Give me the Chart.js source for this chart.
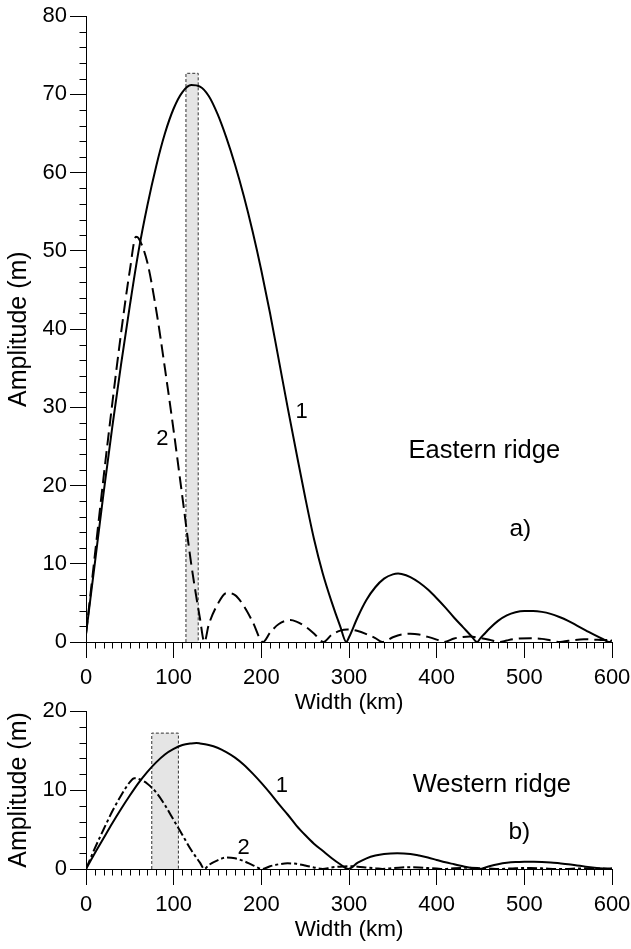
<!DOCTYPE html>
<html><head><meta charset="utf-8">
<script src="https://cdn.jsdelivr.net/npm/chart.js@4/dist/chart.umd.min.js"></script>
<style>
html,body{margin:0;padding:0;background:#fff;}
#wrap{position:relative;width:631px;height:949px;overflow:hidden;background:#fff;}
canvas{position:absolute;left:0;}
#east{top:0;}
#west{top:690px;}
</style></head><body>
<div id="wrap"><canvas id="east" width="631" height="720"></canvas><canvas id="west" width="631" height="259"></canvas></div>
<script>
// ---- data ----
const xTickValues = [0, 100, 200, 300, 400, 500, 600];
const eastYTickValues = [0, 10, 20, 30, 40, 50, 60, 70, 80];
const westYTickValues = [0, 10, 20];

// Eastern ridge, curve 1 (solid)
const eastW1 = [0,10,20,30,40,50,60,70,80,90,100,110,120,130,140,150,160,170,180,190,200,210,220,230,240,250,260,270,280,290,297,300,310,320,330,340,350,356,360,370,380,390,400,410,420,430,440,446,450,460,470,480,490,500,510,520,530,540,550,560,570,580,590,597,600];
const eastA1 = [1,10,19,27.5,35.5,43,50,55.8,60.8,65,68.2,70.3,71.2,71.0,69.8,67.5,64.5,61,57,52.5,47.5,42,36,30,24.2,18.5,13.2,8.8,5.2,2.0,0,0.6,3.2,5.4,7.0,8.1,8.65,8.75,8.7,8.3,7.6,6.7,5.6,4.4,3.1,1.9,0.7,0,0.5,1.7,2.7,3.4,3.8,3.95,3.95,3.85,3.6,3.2,2.7,2.1,1.5,0.9,0.35,0,0.25];
// Eastern ridge, curve 2 (dashed)
const eastW2 = [0,10,20,30,40,50,57,60,70,80,90,100,110,120,130,135,140,150,160,170,180,190,202,210,220,233,240,250,260,271,280,290,298,310,320,330,338,350,360,370,380,390,400,408,420,430,438,450,460,472,480,490,507,520,530,541,550,568,580,590,600];
const eastA2 = [1,11,21,30.5,39.5,47.5,51.8,51.6,48.5,42.5,35,27,18.5,10,3,0,2.2,4.8,6.25,6.0,4.6,2.6,0,1.2,2.3,2.8,2.6,2.0,1.1,0,0.9,1.45,1.6,1.4,1.0,0.5,0,0.6,0.95,1.05,0.95,0.65,0.3,0,0.45,0.65,0.7,0.5,0.3,0,0.2,0.4,0.48,0.4,0.2,0,0.15,0.35,0.3,0.25,0.3];
// Eastern ridge, shaded width range [from, to] and its height
const eastBandW = [114, 128];
const eastBandTop = 72.7;

// Western ridge, curve 1 (solid)
const westW1 = [0,10,20,30,40,50,60,70,80,90,100,110,120,126,130,140,150,160,170,180,190,200,210,220,230,240,250,260,270,280,290,299,310,320,330,340,355,370,380,390,400,410,420,430,440,448,460,470,480,490,500,511,520,530,540,550,560,570,580,590,597,600];
const westA1 = [0,2.0,3.9,5.8,7.6,9.3,10.9,12.3,13.5,14.5,15.2,15.7,15.9,15.95,15.9,15.7,15.35,14.8,14.1,13.2,12.1,10.9,9.6,8.2,6.9,5.5,4.3,3.2,2.3,1.4,0.6,0,0.8,1.35,1.7,1.9,2.0,1.9,1.7,1.45,1.15,0.85,0.6,0.35,0.12,0,0.35,0.6,0.78,0.88,0.92,0.93,0.9,0.83,0.72,0.6,0.45,0.3,0.17,0.06,0,0.05];
// Western ridge, curve 2 (dashed)
const westW2 = [0,10,20,30,40,50,55,60,70,80,90,100,110,120,130,135,140,150,160,170,180,190,201,210,220,230,240,250,260,270,280,290,300,310,320,330,338,350,360,370,380,390,400,408,420,438,450,460,472,490,507,520,541,568,600];
const westA2 = [0,2.6,5.0,7.3,9.3,11.0,11.5,11.4,10.8,9.7,8.1,6.2,4.3,2.4,0.8,0,0.5,1.1,1.45,1.35,1.0,0.5,0,0.35,0.6,0.72,0.65,0.45,0.2,0,0.2,0.3,0.35,0.3,0.2,0.1,0,0.12,0.2,0.22,0.2,0.12,0.05,0,0.1,0.15,0.1,0.05,0,0.1,0.12,0.08,0,0.08,0.07];
const westBandW = [75, 105.4];
const westBandTop = 17.2;

// In-plot labels (text and anchor in data units)
const eastNoteText = ['1', '2', 'Eastern ridge', 'a)'];
const eastNoteW = [246, 87, 454.3, 495.4];
const eastNoteA = [28.6, 25.2, 23.5, 13.6];
const westNoteText = ['1', '2', 'Western ridge', 'b)'];
const westNoteW = [223.4, 179.8, 463, 494.3];
const westNoteA = [9.8, 1.9, 9.8, 3.8];

// ---- drawing ----
const FONT = "'Liberation Sans', Arial, Helvetica, sans-serif";
const pts = (ws, as) => ws.map((w, i) => ({x: w, y: as[i]}));
const bandPts = (b, top) => [{x: b[0], y: 0}, {x: b[0], y: top}, {x: b[1], y: top}, {x: b[1], y: 0}];

const minorTicks = {
  id: 'minorTicks',
  afterDraw(chart, args, o) {
    const {ctx, chartArea: ca, scales: {x, y}} = chart;
    ctx.save();
    ctx.strokeStyle = '#000';
    ctx.lineWidth = 1;
    ctx.beginPath();
    for (let v = x.min; v <= x.max + 1e-9; v += o.xStep) {
      if (Math.abs(v % o.xMajor) < 1e-9) continue;
      const px = Math.round(x.getPixelForValue(v)) + 0.5;
      ctx.moveTo(px, ca.bottom);
      ctx.lineTo(px, ca.bottom + o.len);
    }
    for (let v = y.min; v <= y.max + 1e-9; v += o.yStep) {
      if (Math.abs(v % o.yMajor) < 1e-9) continue;
      const py = Math.round(y.getPixelForValue(v)) + 0.5;
      ctx.moveTo(ca.left, py);
      ctx.lineTo(ca.left - o.len, py);
    }
    ctx.stroke();
    ctx.restore();
  }
};

const notes = {
  id: 'notes',
  afterDraw(chart, args, o) {
    const {ctx, scales: {x, y}} = chart;
    ctx.save();
    ctx.fillStyle = '#000';
    ctx.textAlign = 'center';
    ctx.textBaseline = 'alphabetic';
    o.text.forEach((t, i) => {
      ctx.font = (o.sizes[i]) + 'px ' + FONT;
      ctx.fillText(t, x.getPixelForValue(o.w[i]), y.getPixelForValue(o.a[i]));
    });
    ctx.restore();
  }
};

function makeChart(id, cfg) {
  const lineDs = (data, dash) => ({
    data, borderColor: '#000', borderWidth: 2, borderDash: dash, pointRadius: 0,
    cubicInterpolationMode: 'monotone', fill: false
  });
  return new Chart(document.getElementById(id), {
    type: 'line',
    data: {
      datasets: [
        lineDs(cfg.solid, []),
        lineDs(cfg.dashed, cfg.dash),
        {data: cfg.band, borderColor: '#333', borderWidth: 1, borderDash: [3, 2],
         backgroundColor: '#e5e5e5', fill: 'origin', pointRadius: 0, tension: 0}
      ]
    },
    options: {
      responsive: false,
      animation: false,
      events: [],
      layout: {padding: {top: cfg.padTop, right: 19, left: 0, bottom: 0}},
      plugins: {
        legend: {display: false},
        tooltip: {enabled: false},
        minorTicks: {xStep: 10, xMajor: 100, yStep: 2, yMajor: 10, len: 6.5},
        notes: {text: cfg.noteText, w: cfg.noteW, a: cfg.noteA, sizes: [22, 22, 25.5, 24.5]}
      },
      scales: {
        x: {
          type: 'linear', min: 0, max: 600,
          afterBuildTicks: s => { s.ticks = xTickValues.map(v => ({value: v})); },
          afterFit: s => { s.height = cfg.xHeight; s.paddingLeft = 0; s.paddingRight = 0; },
          ticks: {font: {size: 22, family: FONT}, color: '#000', padding: 7, maxRotation: 0, autoSkip: false},
          grid: {drawOnChartArea: false, drawTicks: true, tickLength: 16, tickColor: '#000', tickWidth: 1},
          border: {display: true, color: '#000', width: 1},
          title: {display: true, text: 'Width (km)', color: '#000', font: {size: 22.5, family: FONT}, padding: {top: 0, bottom: cfg.xTitlePad}}
        },
        y: {
          type: 'linear', min: 0, max: cfg.yMax,
          afterBuildTicks: s => { s.ticks = cfg.yTicks.map(v => ({value: v})); },
          afterFit: s => { s.width = 86; },
          ticks: {font: {size: 22, family: FONT}, color: '#000', padding: 3, autoSkip: false},
          grid: {drawOnChartArea: false, drawTicks: true, tickLength: 16, tickColor: '#000', tickWidth: 1},
          border: {display: true, color: '#000', width: 1},
          title: {display: true, text: 'Amplitude (m)', color: '#000', font: {size: 25, family: FONT}, padding: {top: 4, bottom: 0}}
        }
      }
    },
    plugins: [minorTicks, notes]
  });
}

makeChart('east', {
  solid: pts(eastW1, eastA1), dashed: pts(eastW2, eastA2), dash: [13, 6],
  band: bandPts(eastBandW, eastBandTop), yMax: 80, yTicks: eastYTickValues,
  padTop: 12, xHeight: 78, xTitlePad: 3.6,
  noteText: eastNoteText, noteW: eastNoteW, noteA: eastNoteA
});
makeChart('west', {
  solid: pts(westW1, westA1), dashed: pts(westW2, westA2), dash: [10, 3, 3, 3],
  band: bandPts(westBandW, westBandTop), yMax: 20, yTicks: westYTickValues,
  padTop: 21, xHeight: 80, xTitlePad: 5.6,
  noteText: westNoteText, noteW: westNoteW, noteA: westNoteA
});
</script>
</body></html>
